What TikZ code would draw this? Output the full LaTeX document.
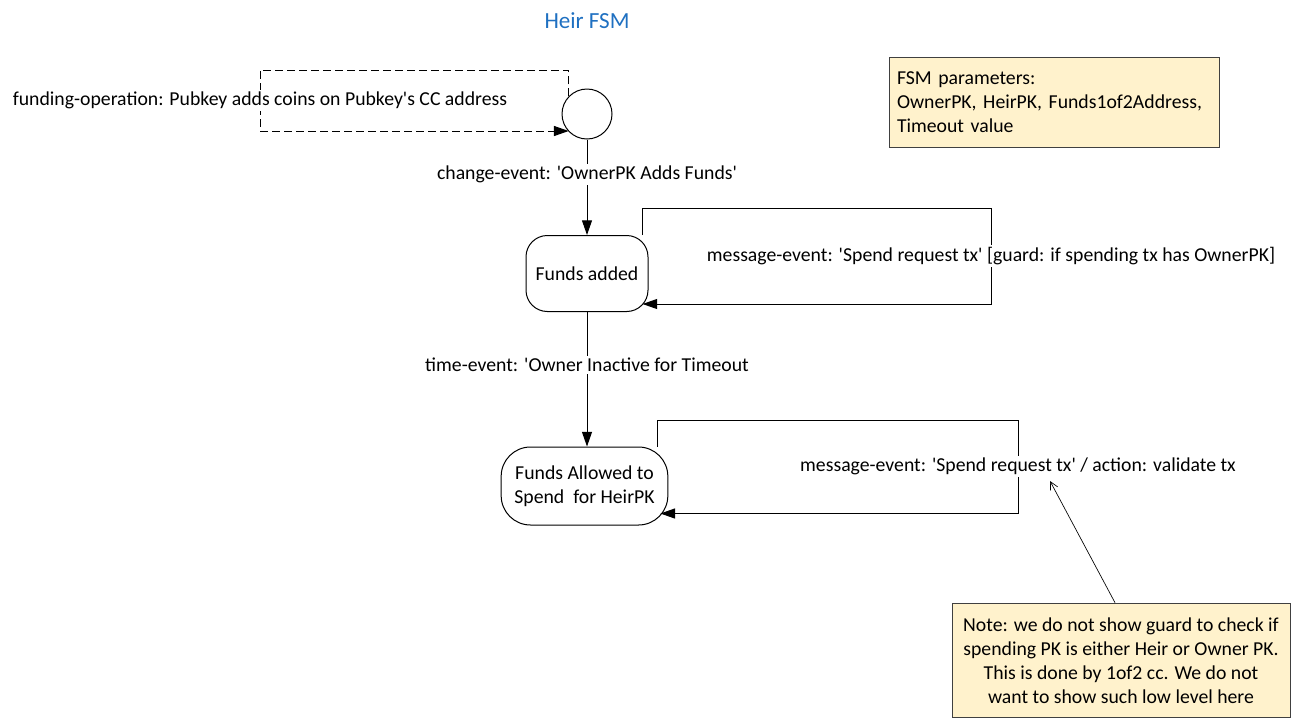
\documentclass[tikz,border=0pt]{standalone}
\usepackage{fontspec}
\setmainfont{Carlito}[Ligatures=TeXOff]
\usepackage{tikz}
\usetikzlibrary{arrows.meta,positioning,calc}
\definecolor{cT}{HTML}{1F70C1}
\definecolor{cN}{HTML}{FFF2CC}
\definecolor{cL}{HTML}{404040}
\tikzset{
  fsmstate/.style={draw,line width=.75pt,rounded corners=16pt,align=center,inner sep=2pt},
  initdot/.style={circle,draw,line width=.75pt,minimum size=37.5pt,inner sep=0pt},
  evt/.style={fill=white,inner sep=1.5pt},
  noteb/.style={draw=cL,line width=.75pt,fill=cN,inner sep=6pt},
  trans/.style={-{Triangle[length=11pt,width=7.5pt]},line width=.75pt},
  pointer/.style={-{Straight Barb[length=6pt,width=6pt]},line width=.5pt},
}

\begin{document}
\begin{tikzpicture}[x=.75pt,y=-.75pt,font=\fontsize{14.8}{18}\selectfont]
  \useasboundingbox (0,0) rectangle (1293,719);
  \node[text=cT,font=\fontsize{17.3}{20}\selectfont] (title) at (587,21) {Heir FSM};

  % states
  \node[initdot] (start) at (587,114) {};
  \node[fsmstate,minimum width=91.5pt,minimum height=57pt] (added) at (587,273.5) {Funds added};
  \node[fsmstate,rounded corners=22pt,minimum width=125pt,minimum height=58.5pt]
    (allowed) at (584.5,486) {Funds Allowed to\\Spend\ \ for HeirPK};

  % side boxes
  \node[noteb,text width=235.5pt,minimum height=67.5pt,align=left] (params) at (1054,102)
    {FSM parameters:\\OwnerPK, HeirPK, Funds1of2Address,\\Timeout value};
  \node[noteb,align=center,minimum width=253.5pt,minimum height=86pt] (remark) at (1121,660.5)
    {Note: we do not show guard to check if\\spending PK is either Heir or Owner PK.\\
     This is done by 1of2 cc. We do not\\want to show such low level here};

  \coordinate (fo1) at (260,70);
  \coordinate (fo2) at (260,131);
  \coordinate (ma1) at (991,208);
  \coordinate (mb1) at (1018,420);
  \coordinate (tip) at (1050,481);

  % transitions
  \draw[trans,dashed,dash pattern=on 6pt off 3pt] (start.136) |- (fo1)
    -- node[evt]{funding-operation: Pubkey adds coins on Pubkey's CC address} (fo2)
    -- (fo2 -| start.224);
  \draw[trans] (start) -- node[evt,pos=.37]{change-event: 'OwnerPK Adds Funds'} (added);
  \draw[trans] (added) -- node[evt,pos=.395]{time-event: 'Owner Inactive for Timeout}
    (added |- allowed.north);
  \draw[trans] ($(added.north east)+(-6,0)$) |- (ma1)
    |- node[evt,pos=.25]{message-event: 'Spend request tx' [guard: if spending tx has OwnerPK]}
    ($(added.south east)+(-6,-8)$);
  \draw[trans] ($(allowed.north east)+(-11,0)$) |- (mb1)
    |- node[evt,pos=.25]{message-event: 'Spend request tx' / action: validate tx}
    ($(allowed.south east)+(-8,-12)$);
  \draw[pointer] ($(remark.north)+(-6,0)$) -- (tip);
\end{tikzpicture}
\end{document}
